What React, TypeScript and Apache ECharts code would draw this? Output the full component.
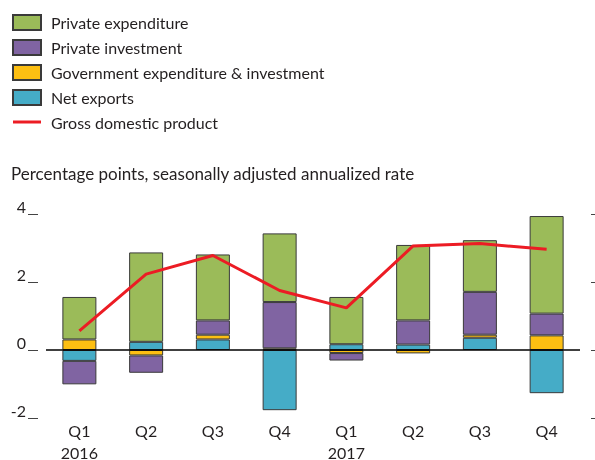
import React, { useEffect, useRef } from 'react';
import * as echarts from 'echarts';

const quarters = ['Q1', 'Q2', 'Q3', 'Q4', 'Q1', 'Q2', 'Q3', 'Q4'];
const years = ['2016', '', '', '', '2017', '', '', ''];
const privateExpenditure = [1.25, 2.63, 1.94, 2.02, 1.39, 2.22, 1.52, 2.87];
const privateInvestment = [-0.69, -0.51, 0.42, 1.36, -0.22, 0.71, 1.26, 0.64];
const government = [0.31, -0.16, 0.14, 0.05, -0.09, -0.1, 0.09, 0.43];
const netExports = [-0.32, 0.24, 0.31, -1.77, 0.17, 0.16, 0.36, -1.27];
const gdp = [0.56, 2.23, 2.78, 1.75, 1.24, 3.06, 3.13, 2.96];
const yMin = -2;
const yMax = 4;
const yStep = 2;

const FONT = 'Lato';
const TEXT = '#231f20';

export default function App() {
  const ref = useRef<HTMLDivElement>(null);
  useEffect(() => {
    if (!ref.current) return;
    const chart = echarts.init(ref.current, undefined, { renderer: 'svg' });
    const categories = quarters.map((q, i) => `${q}|${years[i]}|${i}`);
    const barBase = {
      type: 'bar',
      stack: 'total',
      barWidth: 34,
      itemStyle: { borderColor: '#3a3a3a', borderWidth: 1 },
    };
    chart.setOption({
      animation: false,
      textStyle: { fontFamily: FONT },
      title: {
        text: 'Percentage points, seasonally adjusted annualized rate',
        left: 11,
        top: 165,
        padding: 0,
        textStyle: { fontFamily: FONT, fontSize: 17, fontWeight: 'normal', color: TEXT },
      },
      legend: {
        orient: 'vertical',
        left: 12,
        top: 14,
        padding: 0,
        itemWidth: 28,
        itemHeight: 15,
        itemGap: 8,
        data: [
          { name: 'Private expenditure', icon: 'rect' },
          { name: 'Private investment', icon: 'rect' },
          { name: 'Government expenditure & investment', icon: 'rect' },
          { name: 'Net exports', icon: 'rect' },
          { name: 'Gross domestic product', icon: 'path://M0,0H28V3H0Z' },
        ],
        textStyle: { fontFamily: FONT, fontSize: 16, color: TEXT, lineHeight: 16, padding: [0, 0, 0, 5] },
      },
      grid: { left: 46, right: 15, top: 214, bottom: 42, outerBoundsMode: 'none', containLabel: false },
      xAxis: {
        type: 'category',
        data: categories,
        axisLine: { show: false },
        axisTick: { show: false },
        axisLabel: {
          margin: 1,
          fontFamily: FONT,
          fontSize: 16,
          lineHeight: 22,
          color: TEXT,
          interval: 0,
          formatter: (v: string) => {
            const [q, y] = v.split('|');
            return y ? `${q}\n${y}` : q;
          },
        },
      },
      yAxis: [
        {
          type: 'value',
          min: yMin,
          max: yMax,
          interval: yStep,
          position: 'left',
          offset: 8,
          axisLine: { show: false },
          axisTick: { show: true, length: 10, lineStyle: { color: '#444', width: 1 } },
          splitLine: { show: false },
          axisLabel: {
            margin: 12,
            fontFamily: FONT,
            fontSize: 16,
            color: TEXT,
            verticalAlign: 'bottom',
            lineHeight: 16,
          },
        },
        {
          type: 'value',
          min: yMin,
          max: yMax,
          interval: yStep,
          position: 'right',
          offset: 11,
          axisLine: { show: false },
          axisTick: { show: true, length: 4, lineStyle: { color: '#444', width: 1 } },
          splitLine: { show: false },
          axisLabel: { show: false },
        },
      ],
      series: [
        { ...barBase, name: 'Net exports', data: netExports, itemStyle: { ...barBase.itemStyle, color: '#45acc7' } },
        { ...barBase, name: 'Government expenditure & investment', data: government, itemStyle: { ...barBase.itemStyle, color: '#fdbf12' } },
        { ...barBase, name: 'Private investment', data: privateInvestment, itemStyle: { ...barBase.itemStyle, color: '#8064a2' } },
        { ...barBase, name: 'Private expenditure', data: privateExpenditure, itemStyle: { ...barBase.itemStyle, color: '#9bbb59' } },
        {
          type: 'line',
          name: 'Gross domestic product',
          data: gdp,
          symbol: 'none',
          z: 5,
          lineStyle: { color: '#ec1c24', width: 3 },
          itemStyle: { color: '#ec1c24' },
          markLine: {
            silent: true,
            symbol: ['none', 'none'],
            label: { show: false },
            lineStyle: { color: '#000', width: 1.5, type: 'solid' },
            data: [{ yAxis: 0 }],
          },
        },
      ],
    });
    return () => chart.dispose();
  }, []);
  return <div ref={ref} style={{ position: 'fixed', left: 0, top: 0, width: 595, height: 460 }} />;
}
